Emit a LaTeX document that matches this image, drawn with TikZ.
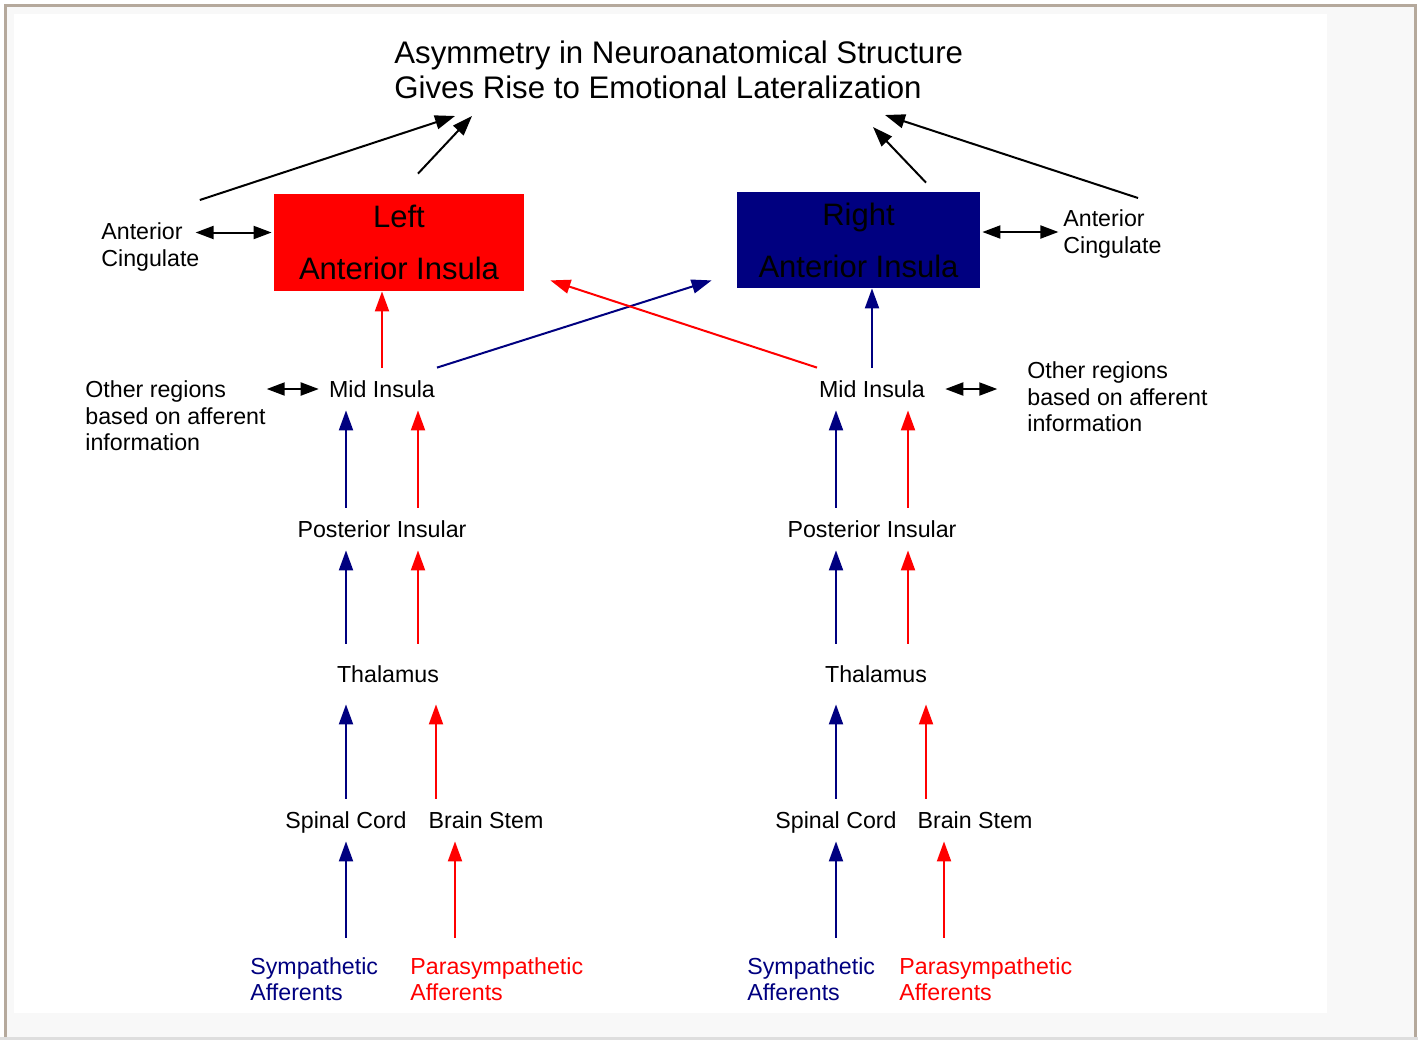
\documentclass[tikz,border=0pt]{standalone}
\usepackage{fontspec}
\setmainfont{Liberation Sans}
\usetikzlibrary{arrows.meta,calc,positioning}

\definecolor{framebrown}{HTML}{B5A99C}
\definecolor{pagegray}{HTML}{F8F8F8}
\definecolor{stripgray}{HTML}{DEDEDE}
\definecolor{insnavy}{HTML}{000080}
\definecolor{insred}{HTML}{FF0000}

\tikzset{
  lbl/.style={inner sep=5pt,text height=9.65pt,text depth=1.35pt,font=\fontsize{11.6}{13}\selectfont},
  lblblock/.style={inner sep=5pt,anchor=west,align=left,font=\fontsize{11.6}{13.2}\selectfont},
  aibox/.style={minimum width=125pt,minimum height=48.5pt,inner sep=0pt,align=center,font=\fontsize{15.5}{18}\selectfont},
  tipbig/.style={-{Triangle[length=10pt,width=7pt]}},
  uparr/.style={line width=1pt,tipbig},
  bluearr/.style={uparr,insnavy},
  redarr/.style={uparr,insred},
  blackarr/.style={uparr,black},
  dblarr/.style={line width=1pt,black,{Triangle[length=9pt,width=6.5pt]}-{Triangle[length=9pt,width=6.5pt]}}
}

\begin{document}
\begin{tikzpicture}[x=0.5pt,y=-0.5pt]
\useasboundingbox (0,0) rectangle (1418,1040);
% page background
\fill[white] (0,0) rectangle (1418,1040);
\fill[stripgray] (0,1037) rectangle (1418,1040);
\fill[framebrown] (4,4) rectangle (1417,1037);
\fill[pagegray] (7,7) rectangle (1414,1037);
\fill[white] (14,14) rectangle (1327,1013);

% title
\node[anchor=west,inner sep=0pt,align=left,font=\fontsize{15.6}{17.5}\selectfont] (title) at (394,70)
  {Asymmetry in Neuroanatomical Structure\\Gives Rise to Emotional Lateralization};

% anterior insula boxes
\node[aibox,fill=insred] (leftAI) at (399,242.5) {Left\\[8pt]Anterior Insula};
\node[aibox,fill=insnavy,minimum width=121.5pt,minimum height=48pt] (rightAI) at (858.5,240) {Right\\[8pt]Anterior Insula};

\node[lblblock] (acL) at (91,247) {Anterior\\Cingulate};
\node[lblblock] (acR) at (1053,234) {Anterior\\Cingulate};

% left side
\node[lbl] (midL) at (382,389) {Mid Insula};
\node[lblblock] (orL) at (75,416) {Other regions\\based on afferent\\information};
\node[lbl] (postL) at (382,529) {Posterior Insular};
\node[lbl] (thalL) at (388,674) {Thalamus};
\node[lbl] (spinL) at (346,820) {Spinal Cord};
\node[lbl] (stemL) at (486,820) {Brain Stem};
\node[lblblock,text=insnavy] (sympL) at (240,979) {Sympathetic\\Afferents};
\node[lblblock,text=insred] (paraL) at (400,979) {Parasympathetic\\Afferents};

% right side
\node[lbl] (midR) at (872,389) {Mid Insula};
\node[lblblock] (orR) at (1017,397) {Other regions\\based on afferent\\information};
\node[lbl] (postR) at (872,529) {Posterior Insular};
\node[lbl] (thalR) at (876,674) {Thalamus};
\node[lbl] (spinR) at (836,820) {Spinal Cord};
\node[lbl] (stemR) at (975,820) {Brain Stem};
\node[lblblock,text=insnavy] (sympR) at (737,979) {Sympathetic\\Afferents};
\node[lblblock,text=insred] (paraR) at (889,979) {Parasympathetic\\Afferents};

% arrows to the title
\coordinate (tA) at ($(title.west)+(61,46)$);
\coordinate (tB) at ($(title.west)+(78,46)$);
\coordinate (tC) at ($(title.west)+(479,57)$);
\coordinate (tD) at ($(title.west)+(491,45)$);
\draw[blackarr] ($(acL.east)+(-10,-47)$) -- (tA);
\draw[blackarr] ($(leftAI.north)+(19,-20)$) -- (tB);
\draw[blackarr] ($(rightAI.north)+(67.5,-9)$) -- (tC);
\draw[blackarr] ($(acR.west)+(85,-36)$) -- (tD);

% two-way links
\draw[dblarr] ($(leftAI.west)+(-78,-10)$) -- ($(leftAI.west)+(-2,-10)$);
\draw[dblarr] ($(rightAI.east)+(2,-8)$) -- ($(rightAI.east)+(78,-8)$);
\draw[dblarr] ($(midL.west)+(-52,0)$) -- (midL.west);
\draw[dblarr] ($(midR.east)+(10,0)$) -- ($(midR.east)+(62,0)$);

% mid insula to anterior insula
\draw[redarr] (midL.north) -- (midL.north |- leftAI.south);
\draw[bluearr] (midR.north) -- (midR.north |- rightAI.south);
\draw[bluearr] ($(midL.north)+(55,0)$) -- ($(rightAI.south west)+(-25,-8)$);
\draw[redarr] ($(midR.north)+(-55,0)$) -- ($(leftAI.south east)+(26,-11)$);

% left pathway
\draw[bluearr] ($(postL.north)+(-36,0)$) -- ($(midL.south)+(-36,0)$);
\draw[redarr] ($(postL.north)+(36,0)$) -- ($(midL.south)+(36,0)$);
\draw[bluearr,shorten <=4.5pt] (thalL.north -| spinL) -- (postL.south -| spinL);
\draw[redarr,shorten <=4.5pt] ($(thalL.north)+(30,0)$) -- ($(postL.south)+(36,0)$);
\draw[bluearr,shorten >=4.5pt] (spinL.north) -- (thalL.south -| spinL);
\draw[redarr,shorten >=4.5pt] ($(stemL.north)+(-50,0)$) -- ($(thalL.south)+(48,0)$);
\draw[bluearr,shorten <=4.5pt] (sympL.north -| spinL) -- (spinL.south);
\draw[redarr,shorten <=4.5pt] ($(paraL.north -| stemL)+(-31,0)$) -- ($(stemL.south)+(-31,0)$);

% right pathway
\draw[bluearr] ($(postR.north)+(-36,0)$) -- ($(midR.south)+(-36,0)$);
\draw[redarr] ($(postR.north)+(36,0)$) -- ($(midR.south)+(36,0)$);
\draw[bluearr,shorten <=4.5pt] (thalR.north -| spinR) -- (postR.south -| spinR);
\draw[redarr,shorten <=4.5pt] ($(thalR.north)+(32,0)$) -- ($(postR.south)+(36,0)$);
\draw[bluearr,shorten >=4.5pt] (spinR.north) -- (thalR.south -| spinR);
\draw[redarr,shorten >=4.5pt] ($(stemR.north)+(-49,0)$) -- ($(thalR.south)+(50,0)$);
\draw[bluearr,shorten <=4.5pt] (sympR.north -| spinR) -- (spinR.south);
\draw[redarr,shorten <=4.5pt] ($(paraR.north -| stemR)+(-31,0)$) -- ($(stemR.south)+(-31,0)$);

\end{tikzpicture}
\end{document}
